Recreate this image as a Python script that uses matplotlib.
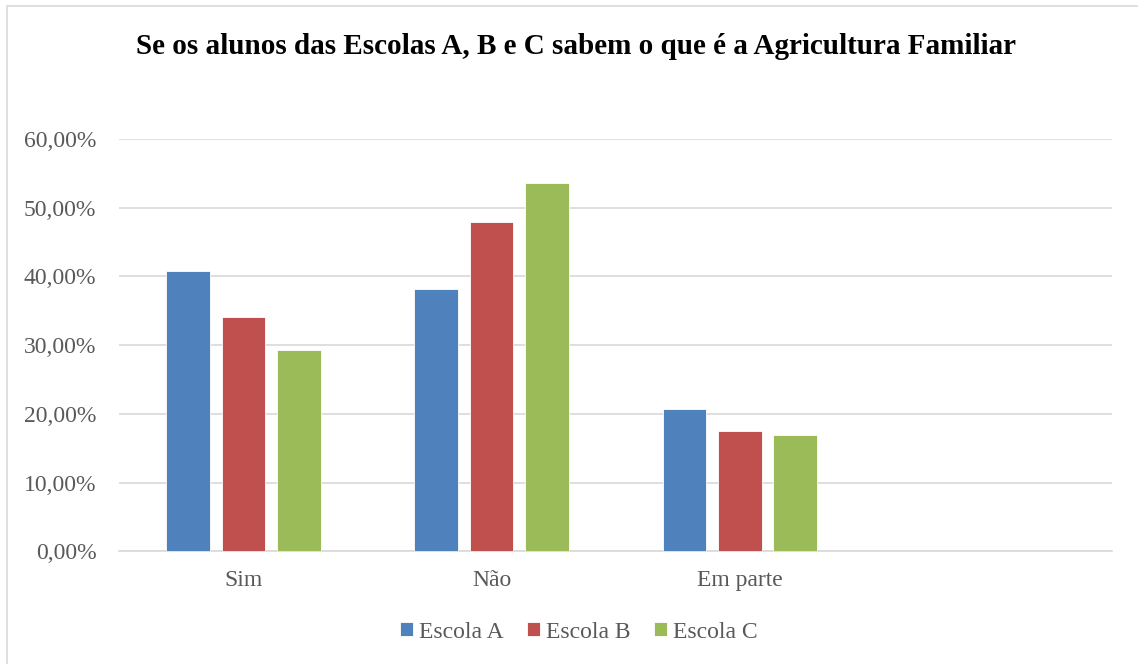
import matplotlib.pyplot as plt
import numpy as np
from matplotlib.patches import Rectangle
from matplotlib.ticker import FuncFormatter

plt.rcParams["font.family"] = ["Liberation Serif", "DejaVu Serif"]

# data
categories = ["Sim", "Não", "Em parte", ""]
series = ["Escola A", "Escola B", "Escola C"]
escola_a = [0.4083, 0.3813, 0.2075, np.nan]
escola_b = [0.3405, 0.4797, 0.1746, np.nan]
escola_c = [0.2929, 0.5355, 0.1697, np.nan]
colors = ["#4f81bd", "#c0504d", "#9bbb59"]

fig = plt.figure(figsize=(11.38, 6.64), dpi=100)
ax = fig.add_axes([0.1048, 0.1697, 0.9772 - 0.1048, 0.7907 - 0.1697])

# outer chart border (only left/top visible in the reference)
fig.patches.append(Rectangle((7 / 1138, -0.1), 1.2, 1 - 6 / 664 + 0.1,
                             transform=fig.transFigure, fill=False,
                             edgecolor="#d9d9d9", linewidth=1.2))

x = np.arange(len(categories))
width = 0.176
step = 0.223
for i, (vals, name) in enumerate(zip([escola_a, escola_b, escola_c], series)):
    ax.bar(x + (i - 1) * step, vals, width, color=colors[i], label=name,
           edgecolor="white", linewidth=0.6, zorder=3)

ax.set_xlim(-0.5, len(categories) - 0.5)
ax.set_ylim(0, 0.6)
ax.set_yticks(np.arange(0, 0.61, 0.1))
ax.yaxis.set_major_formatter(FuncFormatter(lambda v, p: f"{v * 100:.2f}%".replace(".", ",")))
ax.set_xticks(x)
ax.set_xticklabels(categories)
ax.tick_params(axis="both", length=0, labelsize=17, colors="#595959")
ax.tick_params(axis="x", pad=13.5)
ax.tick_params(axis="y", pad=16.5)
ax.grid(axis="y", color="#d9d9d9", linewidth=1.2, zorder=0)
for s in ["top", "right", "left"]:
    ax.spines[s].set_visible(False)
ax.spines["bottom"].set_color("#d9d9d9")
ax.spines["bottom"].set_linewidth(1.2)

fig.text(576 / 1138, 1 - 47 / 664, "Se os alunos das Escolas A, B e C sabem o que é a Agricultura Familiar",
         ha="center", va="center", fontsize=21, fontweight="bold", color="black")

leg = fig.legend(loc="center", bbox_to_anchor=(579 / 1138, 1 - 632 / 664), ncol=3,
                 frameon=False, fontsize=17, handlelength=0.55, handleheight=0.55,
                 handletextpad=0.25, columnspacing=1.0)
for t in leg.get_texts():
    t.set_color("#595959")

plt.savefig("out.png", dpi=100, facecolor="white")
